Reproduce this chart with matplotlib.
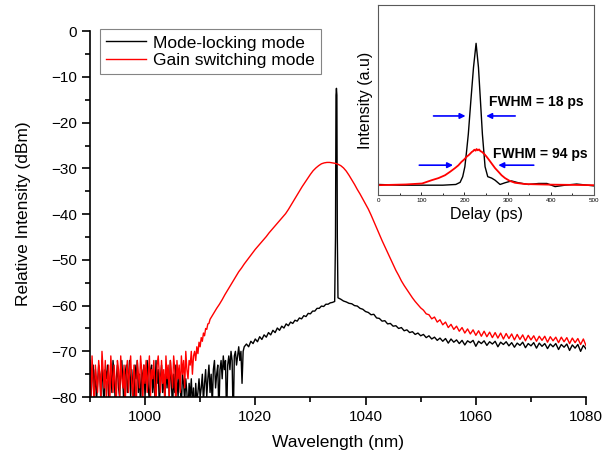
import numpy as np
import matplotlib
matplotlib.use('Agg')
import matplotlib.pyplot as plt
from matplotlib.ticker import MultipleLocator

plt.rcParams['font.family'] = ['Liberation Sans', 'DejaVu Sans']

# ---- main spectrum data (wavelength nm, power dBm) ----
# mode-locking mode (black), in sections: (start, stop, values)
ml_noise = [-72, -80, -76, -73, -79, -74, -81, -77, -73, -75, -80, -72, -78, -82, -74, -76, -73, -80, -77, -74,
            -79, -72, -75, -81, -76, -73, -78, -80, -74, -72, -77, -83, -75, -73, -79, -76, -72, -80, -74, -78,
            -81, -73, -76, -72, -79, -75, -82, -74, -77, -73, -80, -76, -72, -78, -81, -74, -73, -79, -75, -80,
            -72, -77, -74, -82, -76, -73, -79, -75, -81, -73, -78, -74, -80, -72, -77, -83, -75, -79, -73, -76,
            -80, -74, -78, -82, -75, -77, -81, -76, -79, -84, -77, -80, -76, -82, -78, -85, -77, -81, -79, -76, -80]
ml_rise = [-78, -75, -81, -77, -74, -80, -76, -73, -79, -75,
           -82, -74, -72, -78, -75, -73, -84, -74, -72, -76,
           -71, -74, -72, -85, -73, -71, -74, -70, -72, -86,
           -71, -70, -73, -71, -69, -72, -70, -77, -70, -69]
ml_slope = [-68.4, -69.0, -67.8, -68.3, -67.3, -67.9, -66.8, -67.4, -66.4, -66.9,
            -65.9, -66.4, -65.4, -65.9, -64.9, -65.4, -64.5, -64.9, -64.0, -64.4,
            -63.6, -63.9, -63.2, -63.4, -62.7, -62.9, -62.2, -62.4, -61.7, -61.8,
            -61.2, -61.2, -60.6, -60.6, -60.1, -60.2, -59.7, -59.7, -59.4, -59.3, -59.1]
ml_peak_x = [1034.55, 1034.64, 1034.72, 1034.8, 1034.88, 1035.0]
ml_peak_y = [-45.0, -14.0, -12.5, -14.0, -45.0, -58.3]
ml_tail = [-58.6, -59.0, -59.2, -59.5, -59.6, -60.0, -60.1, -60.6, -60.8, -61.3,
           -61.5, -62.0, -61.9, -62.7, -62.8, -63.4, -63.3, -64.0, -63.9, -64.5,
           -64.4, -65.0, -64.8, -65.5, -65.3, -65.9, -65.7, -66.3, -66.0, -66.6,
           -66.3, -67.0, -66.6, -67.3, -66.9, -67.6, -67.1, -67.8, -67.2, -68.2,
           -67.3, -68.0, -67.5, -68.3, -67.6, -68.6, -67.7, -68.1, -67.6, -68.9,
           -67.8, -68.3, -67.7, -68.7, -67.9, -68.4, -67.8, -69.0, -68.0, -68.5,
           -67.9, -68.8, -68.1, -69.1, -68.2, -68.7, -68.0, -69.2, -68.3, -68.8,
           -68.1, -69.3, -68.2, -68.9, -68.3, -69.4, -68.4, -69.0, -68.3, -69.6,
           -68.5, -69.1, -68.4, -69.8, -68.6, -69.3, -68.5, -70.0, -68.7, -69.5]

# gain switching mode (red)
gs_noise = [-74, -80, -71, -77, -82, -73, -76, -79, -72, -75, -81, -70, -74, -78, -72, -80, -76, -73, -83, -71,
            -75, -79, -73, -77, -81, -72, -74, -80, -71, -76, -78, -73, -82, -75, -72, -79, -74, -71, -77, -80,
            -73, -76, -84, -72, -75, -78, -71, -74, -81, -73, -77, -72, -79, -75, -71, -80, -74, -76, -72, -78,
            -82, -73, -71, -75, -79, -72, -77, -74, -81, -71, -76, -73, -80, -72, -75, -78, -71, -74, -83, -72,
            -76, -73, -79, -71, -75, -72, -78, -70, -74, -76, -72]
gs_rise = [-73, -70, -75, -71, -70, -72, -69, -70.5, -68, -69,
           -67, -67.8, -66, -66.6, -65, -65.2, -64, -63.9, -63, -62.6]
gs_body = [-61.6, -60.6, -59.7, -58.7, -57.6, -56.6, -55.6, -54.6, -53.6, -52.6,
           -51.8, -50.9, -50.1, -49.3, -48.5, -47.7, -47.0, -46.3, -45.6, -44.9,
           -44.1, -43.4, -42.7, -42.0, -41.3, -40.6, -39.9, -39.0, -38.0, -37.0,
           -36.0, -35.0, -34.0, -33.1, -32.2, -31.3, -30.5, -29.9, -29.4, -29.0,
           -28.8, -28.7, -28.7, -28.8, -28.9, -29.1, -29.4, -29.9, -30.6, -31.5,
           -32.5, -33.5, -34.6, -35.6, -36.7, -37.8, -38.9, -40.2, -41.6, -43.0,
           -44.4, -45.8, -47.1, -48.4, -49.7, -51.0, -52.3, -53.4, -54.6, -55.6,
           -56.5, -57.4, -58.3, -59.1, -59.8, -60.5]
gs_tail = [-61.0, -61.8, -62.0, -62.9, -62.5, -63.6, -63.1, -64.2, -63.6, -64.8,
           -64.1, -65.2, -64.5, -65.6, -64.8, -66.0, -65.1, -66.2, -65.3, -66.5,
           -65.5, -66.7, -65.6, -66.8, -65.8, -67.0, -65.9, -67.1, -66.0, -67.3,
           -66.1, -67.2, -66.2, -67.5, -66.3, -67.4, -66.4, -67.7, -66.5, -67.5,
           -66.6, -67.8, -66.7, -67.6, -66.7, -68.0, -66.8, -67.7, -66.9, -68.1,
           -66.9, -67.9, -67.0, -68.3, -67.1, -68.1, -67.2, -68.5, -67.3, -68.8]

# ---- inset pulse data (delay ps, normalised intensity) ----
ml_delay = [0, 50, 100, 150, 180, 190, 196, 201, 205, 209, 215, 221, 227, 232.5, 237, 241.6,
            247.8, 254, 263, 271, 282.5, 294, 309, 325, 348, 372, 391, 410, 433, 460, 500]
ml_int = [0.005, 0.0, 0.0, 0.0, 0.005, 0.02, 0.06, 0.13, 0.24, 0.36, 0.60, 0.83, 1.0, 0.83, 0.60, 0.36,
          0.13, 0.06, 0.05, 0.035, 0.005, 0.017, 0.03, 0.017, 0.005, 0.012, 0.012, -0.01, 0.0, 0.008, -0.005]
gs_delay = [0, 64, 102, 124, 140, 155, 167, 178, 186, 193, 199, 205, 211, 217, 220, 223, 226, 228,
            231, 234, 237, 240, 246, 251.5, 257, 263, 271, 278.6, 286, 294, 305, 317, 340, 394, 450, 500]
gs_int = [0.0, 0.005, 0.012, 0.035, 0.05, 0.07, 0.095, 0.12, 0.14, 0.164, 0.18, 0.20, 0.215, 0.234, 0.24,
          0.25, 0.243, 0.255, 0.246, 0.252, 0.24, 0.236, 0.22, 0.20, 0.178, 0.153, 0.12, 0.095, 0.07, 0.05,
          0.03, 0.017, 0.008, 0.004, 0.002, 0.0]


def build(sections):
    xs, ys = [], []
    for x0, x1, vals in sections:
        xs.append(np.linspace(x0, x1, len(vals)))
        ys.append(np.asarray(vals, dtype=float))
    return np.concatenate(xs), np.concatenate(ys)


ml_x, ml_y = build([(990, 1010, ml_noise), (1010.2, 1018, ml_rise), (1018.4, 1034.4, ml_slope)])
ml_x = np.concatenate([ml_x, ml_peak_x])
ml_y = np.concatenate([ml_y, ml_peak_y])
tx, ty = build([(1035.5, 1080, ml_tail)])
ml_x = np.concatenate([ml_x, tx])
ml_y = np.concatenate([ml_y, ty])

gs_x, gs_y = build([(990, 1008, gs_noise), (1008.2, 1012, gs_rise),
                    (1012.5, 1050, gs_body), (1050.5, 1080, gs_tail)])

fig = plt.figure(figsize=(6.03, 4.58), dpi=100)
ax = fig.add_axes([0.149, 0.133, 0.823, 0.799])
ax.plot(ml_x, ml_y, color='black', lw=1.0, label='Mode-locking mode')
ax.plot(gs_x, gs_y, color='red', lw=1.0, label='Gain switching mode')
ax.set_xlim(990, 1080)
ax.set_ylim(-80, 0)
ax.xaxis.set_major_locator(MultipleLocator(20))
ax.xaxis.set_minor_locator(MultipleLocator(10))
ax.yaxis.set_major_locator(MultipleLocator(10))
ax.yaxis.set_minor_locator(MultipleLocator(5))
ax.set_xticks([1000, 1020, 1040, 1060, 1080])
for s in ['top', 'right']:
    ax.spines[s].set_visible(False)
for s in ['left', 'bottom']:
    ax.spines[s].set_linewidth(1.2)
ax.tick_params(which='major', length=6, width=1.2, labelsize=11)
ax.tick_params(which='minor', length=3.5, width=1.2)
ax.set_xlabel('Wavelength (nm)', fontsize=12.5, labelpad=8)
ax.set_ylabel('Relative Intensity (dBm)', fontsize=12.5, labelpad=14)
leg = ax.legend(loc='upper left', bbox_to_anchor=(0.02, 1.005), borderaxespad=0,
                fontsize=12.5, frameon=True, fancybox=False, handlelength=2.3,
                handletextpad=0.4, borderpad=0.35, labelspacing=0.15)
leg.get_frame().set_edgecolor('0.4')
leg.get_frame().set_linewidth(0.8)

# inset
ins = fig.add_axes([0.627, 0.574, 0.358, 0.415])
ins.plot(ml_delay, ml_int, color='black', lw=1.0)
ins.plot(gs_delay, gs_int, color='red', lw=1.3)
ins.set_xlim(0, 500)
ins.set_ylim(-0.07, 1.27)
ins.set_yticks([])
ins.xaxis.set_major_locator(MultipleLocator(100))
ins.xaxis.set_minor_locator(MultipleLocator(50))
ins.tick_params(which='major', direction='in', length=2.5, width=0.6, labelsize=4.5, pad=2)
ins.tick_params(which='minor', direction='in', length=1.5, width=0.6)
for s in ins.spines.values():
    s.set_color('0.35')
    s.set_linewidth(0.8)
ins.set_xlabel('Delay (ps)', fontsize=11.5, labelpad=3)
ins.set_ylabel('Intensity (a.u)', fontsize=11.5, labelpad=4)

arrow = dict(arrowstyle='-|>', color='blue', lw=1.2, mutation_scale=8)
ins.annotate('', xy=(209, 0.488), xytext=(122, 0.488), arrowprops=arrow)
ins.annotate('', xy=(244, 0.488), xytext=(324, 0.488), arrowprops=arrow)
ins.annotate('', xy=(180, 0.141), xytext=(89, 0.141), arrowprops=arrow)
ins.annotate('', xy=(272, 0.141), xytext=(367, 0.141), arrowprops=arrow)
ins.text(257, 0.587, 'FWHM = 18 ps', fontsize=10, fontweight='bold', va='center')
ins.text(267, 0.218, 'FWHM = 94 ps', fontsize=10, fontweight='bold', va='center')

fig.savefig('out.png', dpi=100)
